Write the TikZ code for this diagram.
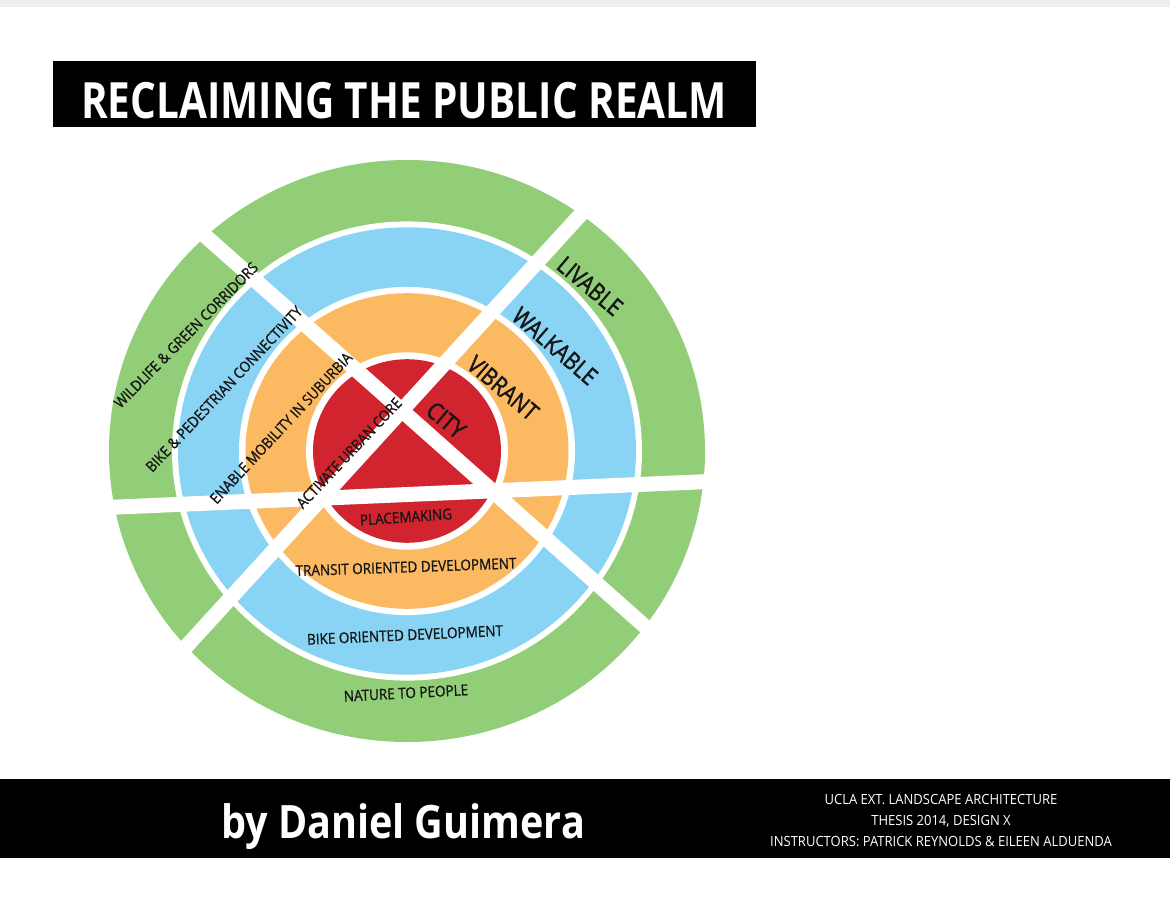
\documentclass[tikz,border=0pt]{standalone}
\usepackage{fontspec}
\setmainfont{Open Sans}
\newfontfamily\headfont{Open Sans}[FakeStretch=0.81]
\newfontfamily\authorfont{Open Sans}[FakeStretch=0.86]
\newfontfamily\labelfont{Open Sans}[FakeStretch=0.9, FakeBold=1]
\newfontfamily\bigfont{Open Sans}[FakeStretch=0.86, FakeBold=1.6]
\newfontfamily\creditfont{Open Sans}[FakeStretch=0.93]
\usepackage{tikz}
\usetikzlibrary{positioning}
\definecolor{ringgreen}{RGB}{146,206,120}
\definecolor{ringblue}{RGB}{137,212,245}
\definecolor{ringorange}{RGB}{251,185,97}
\definecolor{ringred}{RGB}{210,36,46}
\definecolor{inkdark}{RGB}{22,22,22}
\definecolor{stripgray}{RGB}{238,238,242}
\tikzstyle{bar} = [fill=black, inner sep=0pt, anchor=north west]
\tikzstyle{headline} = [text=white, font=\headfont\bfseries\fontsize{50}{50}\selectfont, anchor=base, inner sep=0pt]
\tikzstyle{byline} = [text=white, font=\authorfont\bfseries\fontsize{46}{46}\selectfont, anchor=base, inner sep=0pt]
\tikzstyle{credit} = [text=white, font=\creditfont\fontsize{14}{14}\selectfont, anchor=base, inner sep=0pt]
\tikzstyle{ringlabel} = [text=inkdark, font=\labelfont\fontsize{15}{15}\selectfont, inner sep=0pt]
\tikzstyle{bigword} = [text=inkdark, font=\bigfont\fontsize{24}{24}\selectfont, inner sep=0pt]
\tikzstyle{divider} = [white, line width=15pt]

\begin{document}
\begin{tikzpicture}[x=1pt, y=-1pt]
  \useasboundingbox (0,0) rectangle (1170,916);
  \fill [stripgray] (0,0) rectangle (1170,7);

  % header and footer bars
  \node (titlebar) [bar, minimum width=703pt, minimum height=66pt] at (53,61) {};
  \node (title) [headline] at (404,118) {RECLAIMING THE PUBLIC REALM};
  \node (footbar) [bar, minimum width=1170pt, minimum height=79pt] at (0,779) {};
  \node (author) [byline] at (403,838) {by Daniel Guimera};
  \node (school) [credit] at (941,804) {UCLA EXT. LANDSCAPE ARCHITECTURE};
  \node (thesis) [credit] at (941,825) {THESIS 2014, DESIGN X};
  \node (tutors) [credit] at (941,846) {INSTRUCTORS: PATRICK REYNOLDS \& EILEEN ALDUENDA};

  % rings, outside in
  \coordinate (hub) at (407,451);
  \fill [ringgreen] (hub) ellipse [x radius=298pt, y radius=291pt];
  \fill [white] (hub) ellipse [x radius=235pt, y radius=229.6pt];
  \fill [ringblue] (hub) ellipse [x radius=229pt, y radius=223.7pt];
  \fill [white] (hub) ellipse [x radius=168pt, y radius=164.1pt];
  \fill [ringorange] (hub) ellipse [x radius=161.5pt, y radius=157.8pt];
  \fill [white] (hub) ellipse [x radius=101pt, y radius=98.7pt];
  \fill [ringred] (hub) ellipse [x radius=94pt, y radius=91.8pt];

  % the three cuts
  \coordinate (cutAin) at (193,225);
  \coordinate (cutAout) at (658,638);
  \coordinate (cutBin) at (593,201);
  \coordinate (cutBout) at (173,661);
  \coordinate (cutCin) at (95,508);
  \coordinate (cutCout) at (720,481);
  \draw [divider] (cutAin) -- (cutAout);
  \draw [divider] (cutBin) -- (cutBout);
  \draw [divider] (cutCin) -- (cutCout);

  % words on the rings
  \node (livable) [bigword, rotate=-40] at (590,286) {LIVABLE};
  \node (walkable) [bigword, rotate=-41] at (555,346) {WALKABLE};
  \node (vibrant) [bigword, rotate=-40.5] at (503,388) {VIBRANT};
  \node (city) [bigword, rotate=-40] at (446,420) {CITY};
  \node (placemaking) [ringlabel, rotate=4] at (406,517) {PLACEMAKING};
  \node (transit) [ringlabel, rotate=2] at (406,567) {TRANSIT ORIENTED DEVELOPMENT};
  \node (bikedev) [ringlabel, rotate=2.6] at (405,635) {BIKE ORIENTED DEVELOPMENT};
  \node (nature) [ringlabel, rotate=3] at (406,693) {NATURE TO PEOPLE};
  \node (wildlife) [ringlabel, rotate=45.4] at (186,335) {WILDLIFE \& GREEN CORRIDORS};
  \node (connect) [ringlabel, rotate=46.8] at (224,389) {BIKE \& PEDESTRIAN CONNECTIVITY};
  \node (suburbia) [ringlabel, rotate=47] at (281,428) {ENABLE MOBILITY IN SUBURBIA};
  \node (core) [ringlabel, rotate=46.6] at (349,453) {ACTIVATE URBAN CORE};
\end{tikzpicture}
\end{document}
